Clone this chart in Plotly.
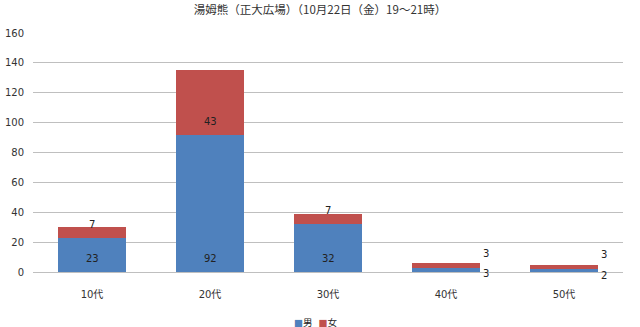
import plotly.graph_objects as go

categories = ["10代", "20代", "30代", "40代", "50代"]
male = [23, 92, 32, 3, 2]
female = [7, 43, 7, 3, 3]
series_names = ["男", "女"]
title_text = "湯姆熊（正大広場）（10月22日（金）19～21時）"

BLUE = "#4F81BD"
RED = "#C0504D"
FONT = "DejaVu Sans, Noto Sans CJK JP, sans-serif"

fig = go.Figure()
fig.add_trace(go.Bar(x=categories, y=male, name=series_names[0], marker=dict(color=BLUE, line=dict(width=0)), width=0.57))
fig.add_trace(go.Bar(x=categories, y=female, name=series_names[1], marker=dict(color=RED, line=dict(width=0)), width=0.57))

# data labels: positions derived from data; pixel offsets are styling
ann = []
for i, (c, m, f) in enumerate(zip(categories, male, female)):
    big = m > 10
    if big:
        ann.append(dict(x=c, y=0, yshift=14, text=str(m), showarrow=False))
        if f > 10:
            ann.append(dict(x=c, y=m, yshift=13, text=str(f), showarrow=False))
        else:
            ann.append(dict(x=c, y=m + f, yshift=3, text=str(f), showarrow=False))
    else:
        ann.append(dict(x=c, y=m, xshift=40, yshift=-6, text=str(m), showarrow=False))
        ann.append(dict(x=c, y=m + f, xshift=40, yshift=10, text=str(f), showarrow=False))
for a in ann:
    a.update(font=dict(size=10, color="#222222", family=FONT))

# compact legend (drawn as text, Excel-style)
legend_text = (f'<span style="color:{BLUE}">■</span>{series_names[0]}&nbsp;&nbsp;'
               f'<span style="color:{RED}">■</span>{series_names[1]}')
ann.append(dict(xref="paper", yref="paper", x=(316 - 33) / 590, y=(272 - 322) / 239,
                xanchor="center", yanchor="middle", showarrow=False, text=legend_text,
                font=dict(size=9.5, color="#222222", family="DejaVu Sans, Noto Sans CJK JP")))

fig.update_layout(
    barmode="stack",
    width=640, height=327,
    margin=dict(l=33, r=17, t=33, b=55, autoexpand=False),
    paper_bgcolor="white", plot_bgcolor="white",
    font=dict(family=FONT, size=10, color="#222222"),
    title=dict(text=title_text, x=0.5, xanchor="center", yref="container", y=1 - 10 / 327, yanchor="middle",
               font=dict(size=11.5, color="#333333", family="Noto Sans CJK JP, DejaVu Sans")),
    bargap=0.43,
    showlegend=False,
    annotations=ann,
)
fig.update_yaxes(range=[0, 160], dtick=20, showgrid=True, gridcolor="#BFBFBF", gridwidth=1,
                 zeroline=False, showline=False, ticks="", ticklabelstandoff=8,
                 tickfont=dict(size=10, color="#333333"))
fig.update_xaxes(showline=True, linecolor="#BFBFBF", linewidth=1, ticks="", ticklabelstandoff=13,
                 tickfont=dict(size=10, color="#333333", family="DejaVu Sans, Noto Sans CJK JP"))

fig.write_html("out.html")
